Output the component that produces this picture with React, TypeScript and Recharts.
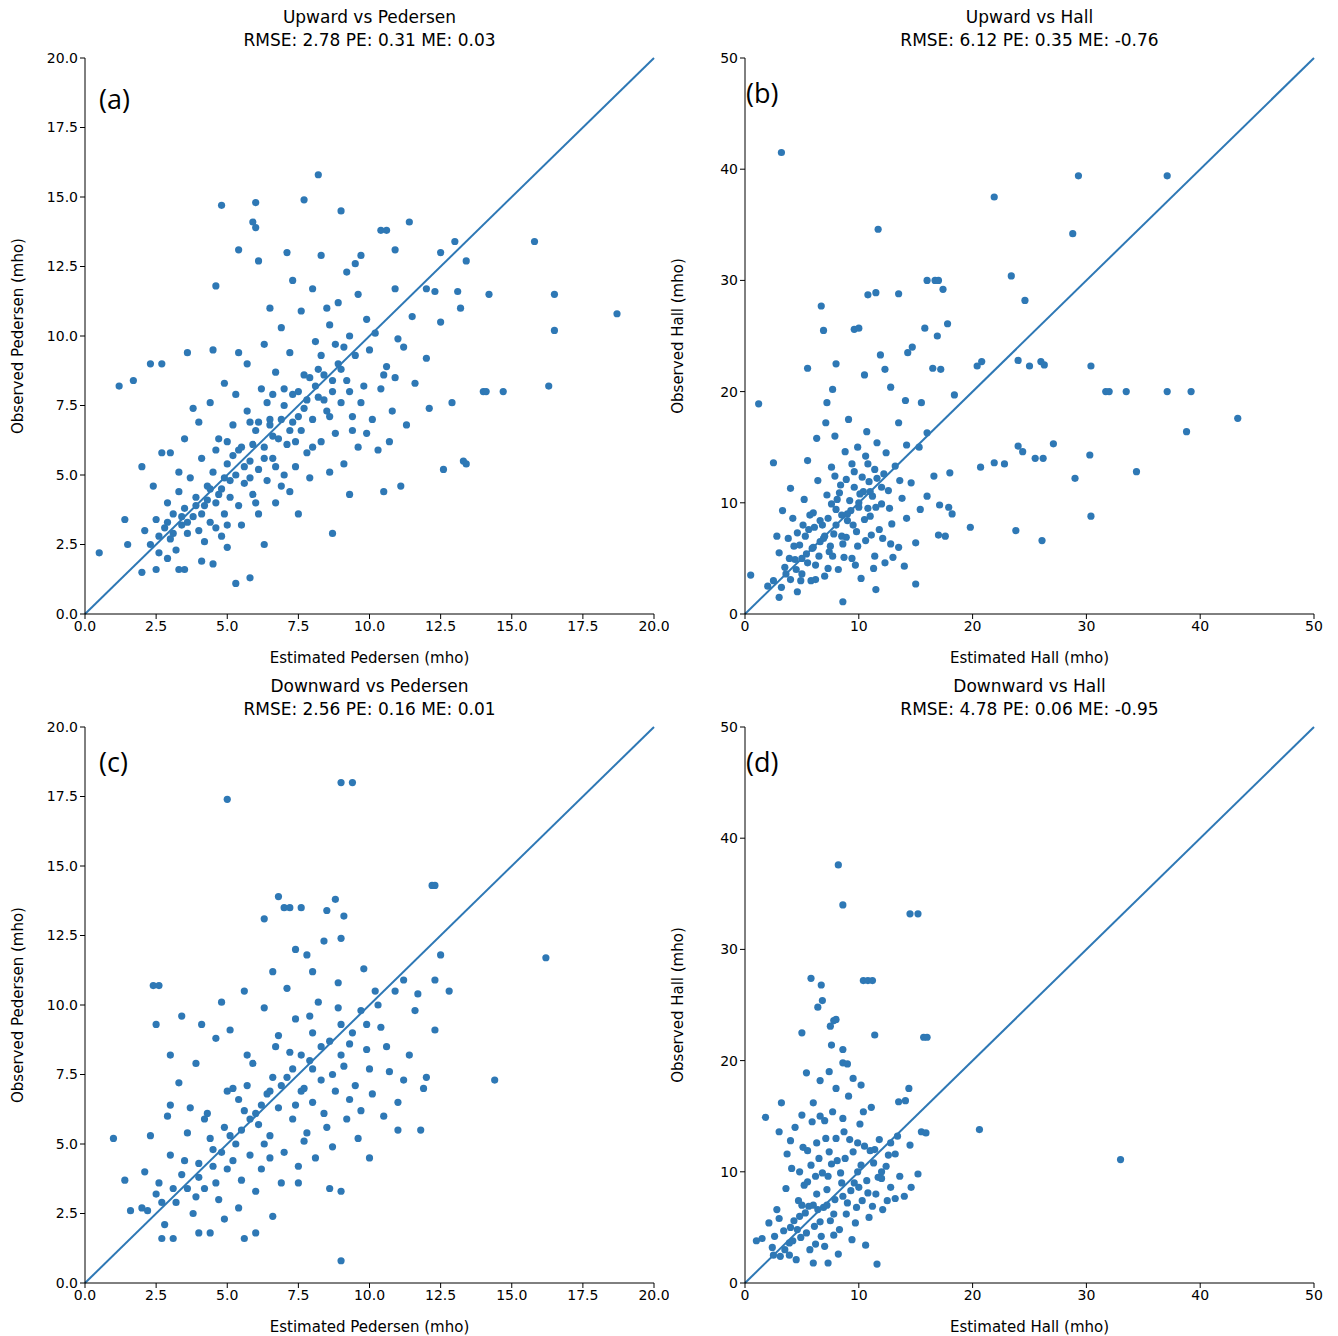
import * as React from "react";
import {
  ScatterChart,
  Scatter,
  XAxis,
  YAxis,
  ReferenceLine,
} from "recharts";

// [estimated, observed] pairs
const upPedersen: [number, number][] = [
  [0.5,2.2],[1.2,8.2],[1.7,8.4],[2.3,9.0],[2.7,9.0],[3.6,9.4],[4.5,9.5],[4.6,11.8],[4.8,14.7],[5.4,13.1],[5.4,9.4],[5.9,14.1],[6.0,14.8],[6.0,13.9],[6.1,12.7],[6.5,11.0],[7.1,13.0],[7.3,12.0],[7.7,14.9],[8.2,15.8],[8.3,12.9],[8.5,11.0],[9.0,14.5],[9.2,12.3],[9.5,12.6],[9.7,12.9],[10.4,13.8],[10.6,13.8],[10.9,13.1],[11.4,14.1],[10.9,11.7],[11.5,10.7],[12.0,11.7],[12.3,11.6],[12.5,13.0],[13.0,13.4],[13.4,12.7],[13.1,11.6],[13.2,11.0],[14.2,11.5],[15.8,13.4],[16.5,11.5],[16.5,10.2],[18.7,10.8],[16.3,8.2],[14.7,8.0],[14.0,8.0],[14.1,8.0],[12.9,7.6],[13.3,5.5],[13.4,5.4],[12.6,5.2],[12.1,7.4],[11.1,4.6],[10.5,4.4],[9.3,4.3],[8.7,2.9],[7.5,3.6],[6.3,2.5],[5.8,1.3],[5.3,1.1],[5.0,2.4],[4.5,1.8],[4.1,1.9],[3.5,1.6],[3.3,1.6],[2.9,2.0],[2.5,1.6],[2.0,1.5],[1.5,2.5],[1.4,3.4],[12.0,9.2],[12.5,10.5],[11.2,9.6],[10.6,8.9],
  [2.1,3.0],[2.3,2.5],[2.5,3.4],[2.6,2.2],[2.8,3.1],[2.9,4.0],[3.0,2.7],[3.1,3.6],[3.2,2.3],[3.3,4.4],[3.4,3.2],[3.5,3.8],[3.6,2.9],[3.7,4.9],[3.8,3.5],[3.9,4.2],[4.0,3.0],[4.1,5.6],[4.2,3.9],[4.3,4.6],[4.4,3.3],[4.5,5.1],[4.6,4.0],[4.7,6.3],[4.8,4.5],[4.9,3.6],[5.0,5.4],[5.1,4.2],[5.2,6.8],[5.3,5.0],[5.4,3.9],[5.5,6.0],[5.6,4.7],[5.7,7.3],[5.8,5.5],[5.9,4.3],[6.0,6.6],[6.1,5.2],[6.2,8.1],[6.3,6.0],[6.4,4.8],[6.5,7.0],[6.6,5.6],[6.7,8.7],[6.8,6.3],[6.9,4.6],[7.0,7.5],[7.1,6.1],[7.2,9.4],[7.3,6.9],[7.4,5.3],[7.5,8.0],[7.6,6.6],[7.7,7.4],[7.8,5.8],[7.9,8.5],[8.0,7.0],[8.1,9.8],[8.2,7.8],[8.3,6.2],[8.4,8.6],[8.5,7.3],[8.6,10.4],[8.7,8.0],[8.8,6.5],[8.9,9.0],[9.0,7.6],[9.1,5.4],[9.2,8.4],[9.3,10.0],[9.4,7.1],[9.5,9.3],[9.6,6.0],[9.8,8.2],[10.0,9.5],[10.1,7.0],[10.3,5.9],[10.5,8.6],[10.8,7.3],[11.0,9.9],[11.3,6.8],[11.6,8.3],[3.0,5.8],[3.5,6.3],[4.0,6.9],[4.4,7.6],[4.9,8.3],[5.3,7.9],[5.7,9.0],[6.3,9.7],[6.9,10.3],[7.6,10.9],[8.0,11.7],[8.9,11.2],[9.6,11.5],[2.4,4.6],[2.0,5.3],[2.7,5.8],[3.8,7.4],[4.2,2.6],[4.8,2.8],[5.5,3.2],[6.1,3.6],[6.7,4.0],[7.2,4.4],[7.9,4.9],[8.6,5.1],[9.9,6.5],[10.2,10.1],[6.4,7.6],[7.3,7.9],[8.2,8.8],[5.0,6.2],[5.8,6.9],[4.6,5.9],[3.3,5.1],
  [3.1,2.9],[3.6,3.3],[4.1,3.6],[4.3,4.1],[4.7,4.3],[5.1,4.8],[5.2,5.7],[5.6,5.3],[5.9,6.1],[6.3,5.6],[6.6,6.4],[6.9,7.0],[7.2,6.6],[7.5,7.1],[7.8,7.7],[8.1,8.2],[8.4,7.7],[8.7,8.4],[9.0,8.8],[9.3,8.0],[9.1,9.6],[8.3,9.3],[7.7,8.6],[7.0,8.1],[6.5,6.8],[6.1,6.9],[5.4,5.9],[4.9,4.9],[4.4,4.5],[3.9,3.9],[3.4,3.5],[2.9,3.3],[2.6,2.8],[5.8,4.9],[6.7,5.3],[7.4,6.2],[8.6,7.1],[9.7,7.6],[10.4,8.1],[10.9,8.5],[5.0,3.2],[4.6,3.1],[6.0,4.0],[7.0,5.0],[8.0,6.0],[9.4,6.6],[10.7,6.2],[8.8,9.7],[9.9,10.6],[6.6,7.9],
];

const upHall: [number, number][] = [
  [0.5,3.5],[1.2,18.9],[2.5,13.6],[3.2,41.5],[5.5,22.1],[6.7,27.7],[6.9,25.5],[7.2,19.0],[7.7,20.2],[8.0,22.5],[9.6,25.6],[10.0,25.7],[10.5,21.5],[10.8,28.7],[11.5,28.9],[11.7,34.6],[11.9,23.3],[12.3,22.0],[12.8,20.4],[13.5,28.8],[14.3,23.5],[14.7,24.0],[15.5,19.0],[15.8,25.7],[16.0,30.0],[16.7,30.0],[17.0,30.0],[16.9,25.0],[17.4,29.2],[17.8,26.1],[18.4,19.7],[16.5,22.1],[17.2,22.0],[20.4,22.3],[20.8,22.7],[21.9,37.5],[23.4,30.4],[24.6,28.2],[24.0,22.8],[25.0,22.3],[26.0,22.7],[26.3,22.4],[28.8,34.2],[29.3,39.4],[37.1,39.4],[30.4,22.3],[31.7,20.0],[32.0,20.0],[33.5,20.0],[37.1,20.0],[39.2,20.0],[43.3,17.6],[38.8,16.4],[34.4,12.8],[30.3,14.3],[30.4,8.8],[29.0,12.2],[27.1,15.3],[26.2,14.0],[25.5,14.0],[24.4,14.6],[24.0,15.1],[23.8,7.5],[26.1,6.6],[21.9,13.6],[20.7,13.2],[22.8,13.5],[19.8,7.8],[18.0,12.7],[17.9,9.6],[17.0,7.1],[17.6,7.0],[15.0,2.7],[14.0,4.3],[12.8,6.3],[11.5,2.2],[8.6,1.1],[3.0,1.5],[2.0,2.5],[16.0,16.3],[15.3,15.0],[14.1,19.2],[13.5,17.2],[14.2,15.2],
  [2.5,3.0],[3.0,5.5],[3.2,2.4],[3.5,4.2],[3.8,6.8],[4.0,3.1],[4.2,8.6],[4.4,4.9],[4.6,2.0],[4.8,6.2],[5.0,3.6],[5.2,10.3],[5.4,5.4],[5.6,7.6],[5.8,3.0],[6.0,9.1],[6.2,4.4],[6.4,12.0],[6.6,6.5],[6.8,8.0],[7.0,3.4],[7.2,10.7],[7.4,5.6],[7.6,13.2],[7.8,7.2],[8.0,9.4],[8.2,4.0],[8.4,11.6],[8.6,6.3],[8.8,14.6],[9.0,8.4],[9.2,10.2],[9.4,5.0],[9.6,12.8],[9.8,7.4],[10.0,9.6],[10.2,3.2],[10.4,11.0],[10.6,6.6],[10.8,13.5],[11.0,8.8],[11.2,10.6],[11.4,5.2],[11.6,12.2],[11.8,7.6],[12.0,9.9],[12.3,4.6],[12.6,11.1],[12.9,8.1],[13.2,13.3],[13.5,6.0],[13.8,10.4],[14.2,8.6],[14.6,11.8],[15.0,6.4],[15.4,9.4],[16.0,10.6],[16.6,12.4],[17.1,9.8],[18.2,9.0],[5.5,13.8],[6.3,15.8],[7.1,17.2],[7.9,16.0],[9.1,17.5],[9.9,15.0],[10.7,16.4],[11.6,15.4],[12.4,14.5],[4.0,11.3],[3.3,9.3],[2.8,7.0],[5.9,5.9],[6.9,6.8],[7.7,5.2],[8.5,8.9],[9.3,9.3],[10.1,10.8],[10.9,11.9],[6.1,7.8],[7.3,8.6],[8.1,10.3],[8.9,12.1],[9.7,4.4],[11.3,4.1],[5.1,8.0],[4.3,6.1],[3.6,3.6],[12.1,6.8],[13.0,5.1],
  [4.5,4.0],[5.0,5.0],[5.5,4.6],[6.0,6.0],[6.5,5.2],[7.0,7.0],[7.5,6.1],[8.0,8.0],[8.5,7.0],[9.0,9.0],[9.5,8.0],[10.0,10.0],[10.5,8.5],[11.0,11.0],[11.5,9.6],[12.0,11.4],[6.2,3.1],[7.3,4.1],[8.7,5.1],[9.9,6.1],[11.1,7.1],[5.3,7.0],[6.6,8.4],[7.6,9.9],[8.3,10.9],[9.6,11.4],[10.3,12.3],[11.4,13.0],[3.9,5.0],[4.9,3.0],[5.7,8.9],[7.9,12.4],[9.4,13.5],[10.6,14.2],[12.7,9.5],[13.6,12.0],[4.6,7.3],[8.9,6.9],[10.8,9.5],[12.2,12.6],
];

const downPedersen: [number, number][] = [
  [1.0,5.2],[1.4,3.7],[1.6,2.6],[2.0,2.7],[2.1,4.0],[2.4,10.7],[2.6,10.7],[2.5,9.3],[3.0,8.2],[3.4,9.6],[3.0,6.4],[4.8,10.1],[5.0,17.4],[5.6,10.5],[6.3,13.1],[6.6,11.2],[6.8,13.9],[7.0,13.5],[7.2,13.5],[7.6,13.5],[7.4,12.0],[8.0,11.2],[8.5,13.4],[8.8,13.8],[9.0,18.0],[9.4,18.0],[9.1,13.2],[9.0,12.4],[9.8,11.3],[10.2,10.5],[10.9,10.5],[11.2,10.9],[11.7,10.4],[12.2,14.3],[12.3,14.3],[12.5,11.8],[12.3,10.9],[12.8,10.5],[11.6,9.8],[12.3,9.1],[16.2,11.7],[14.4,7.3],[12.0,7.4],[11.8,5.5],[11.0,5.5],[10.0,4.5],[9.0,3.3],[8.6,3.4],[9.0,0.8],[7.5,3.6],[6.6,2.4],[6.0,1.8],[5.6,1.6],[4.4,1.8],[4.0,1.8],[3.1,1.6],[2.7,1.6],[2.5,3.2],
  [2.2,2.6],[2.6,3.6],[2.8,2.1],[3.0,4.6],[3.2,2.9],[3.4,3.9],[3.6,5.4],[3.8,2.5],[4.0,4.3],[4.2,3.4],[4.3,6.1],[4.5,4.8],[4.7,3.0],[4.9,5.6],[5.0,4.1],[5.2,7.0],[5.3,5.0],[5.5,3.7],[5.6,6.2],[5.8,4.6],[5.9,7.9],[6.1,5.7],[6.2,4.1],[6.4,6.8],[6.5,5.3],[6.7,8.5],[6.8,6.3],[7.0,4.7],[7.1,7.4],[7.3,5.9],[7.4,9.5],[7.6,6.9],[7.7,5.1],[7.9,8.0],[8.0,6.5],[8.2,10.1],[8.3,7.3],[8.5,5.6],[8.6,8.7],[8.8,6.9],[8.9,10.8],[9.1,7.8],[9.2,5.9],[9.4,9.0],[9.5,7.1],[9.7,6.2],[9.9,8.4],[10.1,6.8],[10.4,9.2],[10.7,7.6],[11.0,6.5],[11.4,8.2],[11.9,7.0],[3.3,7.2],[3.9,7.9],[4.6,8.8],[5.1,9.1],[5.7,8.2],[6.3,9.9],[7.1,10.6],[7.8,11.8],[8.4,12.3],[2.3,5.3],[2.9,6.0],[4.1,9.3],[4.9,2.3],[5.4,2.7],[6.0,3.3],[6.9,3.6],[7.5,4.2],[8.1,4.5],[8.7,4.9],[9.6,5.2],[10.3,10.0],[6.6,7.4],[7.2,8.3],[8.0,9.0],[5.4,6.6],[4.4,5.2],[3.5,4.4],[6.0,6.1],[9.0,8.2],[10.0,7.7],[7.7,7.0],
  [3.6,3.4],[4.0,3.8],[4.5,4.2],[4.8,4.7],[5.1,5.3],[5.5,5.5],[5.8,5.9],[6.2,6.4],[6.5,6.9],[6.9,7.1],[7.3,7.7],[7.6,8.2],[8.0,7.7],[8.3,8.5],[8.7,7.5],[9.0,9.3],[9.3,8.6],[9.7,9.8],[8.4,6.1],[7.4,6.4],[6.3,5.0],[5.2,4.4],[4.6,3.6],[3.9,3.1],[3.1,3.4],[2.7,2.9],[5.7,7.1],[6.8,8.9],[7.9,9.6],[8.9,9.9],[9.9,9.3],[10.6,8.5],[4.2,5.9],[5.0,6.9],[6.5,4.5],[7.8,5.4],[9.3,6.6],[10.5,6.0],[11.2,7.3],[3.7,6.3],
];

const downHall: [number, number][] = [
  [1.5,4.0],[1.8,14.9],[2.1,5.4],[3.0,13.6],[3.2,16.2],[4.0,12.8],[5.0,22.5],[5.4,18.9],[5.8,27.4],[6.4,24.8],[6.7,26.8],[6.8,25.4],[7.5,23.1],[7.8,23.6],[8.0,23.7],[8.2,37.6],[8.6,34.0],[8.6,19.8],[9.0,19.7],[7.6,21.4],[8.6,21.0],[10.4,27.2],[10.8,27.2],[11.2,27.2],[11.4,22.3],[14.5,33.2],[15.2,33.2],[15.7,22.1],[16.0,22.1],[13.5,16.3],[14.1,16.4],[14.4,17.5],[15.5,13.6],[15.9,13.5],[20.6,13.8],[33.0,11.1],[14.6,8.6],[13.2,7.6],[11.6,1.7],[7.3,1.8],[6.0,1.8],[3.9,2.5],[2.5,2.5],[1.0,3.8],[12.8,12.6],
  [2.4,3.2],[2.8,6.6],[3.1,2.4],[3.4,4.7],[3.6,8.5],[3.9,3.6],[4.1,10.3],[4.3,5.6],[4.5,2.1],[4.7,7.4],[4.9,4.1],[5.1,12.2],[5.3,6.3],[5.5,9.1],[5.7,3.0],[5.9,14.5],[6.1,5.1],[6.3,8.0],[6.5,11.2],[6.7,4.2],[6.9,6.8],[7.1,13.0],[7.3,9.6],[7.5,5.6],[7.7,15.4],[7.9,7.5],[8.1,11.0],[8.3,4.8],[8.5,9.0],[8.7,13.6],[8.9,6.2],[9.1,16.8],[9.3,8.3],[9.5,11.8],[9.7,5.4],[9.9,10.0],[10.1,14.3],[10.3,7.4],[10.5,12.3],[10.7,9.2],[10.9,5.9],[11.1,15.8],[11.3,10.8],[11.5,8.0],[11.8,12.9],[12.1,6.6],[12.4,10.5],[12.8,8.6],[13.2,11.6],[13.6,9.6],[14.0,7.8],[14.5,12.4],[15.2,9.8],[6.0,16.2],[6.6,18.2],[7.4,19.0],[8.0,17.5],[9.5,18.4],[10.2,17.8],[5.0,15.1],[4.4,14.0],[3.7,11.6],[6.4,6.6],[7.0,3.3],[8.2,2.6],[9.4,3.9],[10.6,3.4],[5.6,6.9],[7.6,10.7],[8.6,7.8],[9.2,12.9],[10.0,8.6],[11.0,11.9],[12.0,9.4],[6.2,9.6],[7.2,7.0],[4.6,4.8],[5.2,8.8],
  [4.0,5.0],[4.8,6.0],[5.4,4.5],[6.0,7.0],[6.6,5.5],[7.2,8.4],[7.8,6.2],[8.4,9.9],[9.0,7.2],[9.6,9.0],[10.2,10.6],[10.8,8.1],[11.4,12.0],[12.0,10.0],[8.8,11.2],[7.4,11.8],[6.8,9.9],[5.8,10.6],[5.0,7.0],[4.2,3.8],[3.5,3.0],[6.2,3.5],[7.8,4.3],[9.8,6.8],[11.2,6.9],[12.6,11.5],[13.4,13.2],[10.4,15.4],[8.6,14.8],[7.0,14.6],[6.3,12.6],[5.5,11.9],[4.8,10.0],[9.9,12.6],[11.7,9.5],[12.5,7.4],[6.6,15.0],[8.0,13.0],[3.0,5.8],[2.6,4.2],
];

const pedersenTicks = [0, 2.5, 5, 7.5, 10, 12.5, 15, 17.5, 20];
const hallTicks = [0, 10, 20, 30, 40, 50];

const COLOR = "#2e78b5";
const FONT = "'DejaVu Sans', sans-serif";

type PanelProps = {
  left: number;
  top: number;
  data: [number, number][];
  max: number;
  ticks: number[];
  fmt: (v: number) => string;
  kind: string;
  title: string;
  stats: string;
  tag: string;
  tagDx: number;
  tagDy: number;
};

function Panel({ left, top, data, max, ticks, fmt, kind, title, stats, tag, tagDx, tagDy }: PanelProps) {
  const points = data.map(([x, y]) => ({ x, y }));
  const tickStyle = { fill: "#000", fontSize: 14, fontFamily: FONT };
  return (
    <div style={{ position: "absolute", left, top, width: 669, height: 669 }}>
      <div
        style={{
          position: "absolute", left: 85, width: 569, top: 6, textAlign: "center",
          fontFamily: FONT, fontSize: 17, lineHeight: "23px", color: "#000",
        }}
      >
        <div>{title}</div>
        <div>{stats}</div>
      </div>
      <div
        style={{
          position: "absolute", left: 85 + tagDx, top: 58 + tagDy,
          fontFamily: "'Open Sans', sans-serif", fontSize: 27, color: "#000",
        }}
      >
        {tag}
      </div>
      <ScatterChart width={669} height={669} margin={{ top: 58, right: 15, bottom: 0, left: 0 }}>
        <XAxis
          xAxisId="b" type="number" dataKey="x" domain={[0, max]} ticks={ticks}
          tickFormatter={fmt} height={55} stroke="#000" tick={tickStyle} tickSize={5}
          allowDataOverflow
          label={{ value: `Estimated ${kind} (mho)`, position: "insideBottom", offset: 6, fill: "#000", fontSize: 15, fontFamily: FONT }}
        />
        <XAxis xAxisId="t" orientation="top" type="number" domain={[0, max]} tick={false} tickLine={false} height={0} stroke="#000" />
        <YAxis
          yAxisId="l" type="number" dataKey="y" domain={[0, max]} ticks={ticks}
          tickFormatter={fmt} width={85} stroke="#000" tick={tickStyle} tickSize={5}
          allowDataOverflow
          label={{ value: `Observed ${kind} (mho)`, angle: -90, position: "insideLeft", offset: 18, fill: "#000", fontSize: 15, fontFamily: FONT, style: { textAnchor: "middle" } }}
        />
        <YAxis yAxisId="r" orientation="right" type="number" domain={[0, max]} tick={false} tickLine={false} width={0} stroke="#000" />
        <ReferenceLine
          xAxisId="b" yAxisId="l"
          segment={[{ x: 0, y: 0 }, { x: max, y: max }]}
          stroke={COLOR} strokeWidth={2}
        />
        <Scatter
          xAxisId="b" yAxisId="l" data={points} fill={COLOR}
          shape={(p: any) => <circle cx={p.cx} cy={p.cy} r={3.6} fill={COLOR} />}
          isAnimationActive={false}
        />
      </ScatterChart>
    </div>
  );
}

const fmtPed = (v: number) => v.toFixed(1);
const fmtHall = (v: number) => String(v);

export default function App() {
  return (
    <div style={{ position: "absolute", left: 0, top: 0, width: 1338, height: 1336, background: "#fff" }}>
      <Panel left={0} top={0} data={upPedersen} max={20} ticks={pedersenTicks} fmt={fmtPed}
        kind="Pedersen" title="Upward vs Pedersen" stats="RMSE: 2.78 PE: 0.31 ME: 0.03" tag="(a)" tagDx={14} tagDy={22} />
      <Panel left={660} top={0} data={upHall} max={50} ticks={hallTicks} fmt={fmtHall}
        kind="Hall" title="Upward vs Hall" stats="RMSE: 6.12 PE: 0.35 ME: -0.76" tag="(b)" tagDx={1} tagDy={16} />
      <Panel left={0} top={669} data={downPedersen} max={20} ticks={pedersenTicks} fmt={fmtPed}
        kind="Pedersen" title="Downward vs Pedersen" stats="RMSE: 2.56 PE: 0.16 ME: 0.01" tag="(c)" tagDx={14} tagDy={16} />
      <Panel left={660} top={669} data={downHall} max={50} ticks={hallTicks} fmt={fmtHall}
        kind="Hall" title="Downward vs Hall" stats="RMSE: 4.78 PE: 0.06 ME: -0.95" tag="(d)" tagDx={1} tagDy={16} />
    </div>
  );
}
